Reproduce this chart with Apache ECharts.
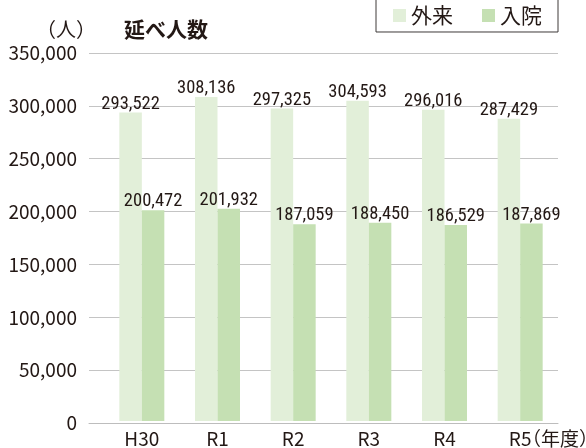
<!DOCTYPE html>
<html>
<head>
<meta charset="utf-8">
<script src="https://cdn.jsdelivr.net/npm/echarts@6/dist/echarts.min.js"></script>
<style>
  html, body { margin: 0; padding: 0; background: #fff; }
  #chart { width: 586px; height: 448px; }
</style>
</head>
<body>
<!-- 延べ人数 -->
<div id="chart"></div>
<script>
var categories = ['H30', 'R1', 'R2', 'R3', 'R4', 'R5']
var gairai = [293522, 308136, 297325, 304593, 296016, 287429] // 外来
var nyuin = [200472, 201932, 187059, 188450, 186529, 187869] // 入院
var yMin = 0
var yMax = 350000
var yStep = 50000

var textColor = '#231815'
var cjkFont = 'Noto Sans CJK JP, sans-serif'
var labelFont = 'Roboto Condensed, Noto Sans, sans-serif'

var myChart = echarts.init(document.getElementById('chart'))

function barLabel() {
  return {
    show: true,
    position: 'top',
    distance: -1,
    fontFamily: labelFont,
    fontSize: 18.5,
    color: textColor,
    formatter: function (p) { return p.value.toLocaleString('en-US') }
  }
}

var option = {
  animation: false,
  backgroundColor: '#fff',
  title: [
    {
      text: '（人）',
      left: 31,
      top: 14,
      textStyle: { fontFamily: cjkFont, fontSize: 20, fontWeight: 'normal', color: textColor }
    },
    {
      text: '延べ人数',
      left: 119,
      top: 14,
      textStyle: { fontFamily: cjkFont, fontSize: 21, fontWeight: 'bold', color: textColor }
    }
  ],
  legend: {
    right: 28,
    top: -2,
    padding: [7, 16, 6, 17],
    borderColor: '#3e3a39',
    borderWidth: 1,
    itemWidth: 13,
    itemHeight: 13,
    itemGap: 29,
    icon: 'rect',
    textStyle: { fontFamily: cjkFont, fontSize: 21, color: textColor },
    data: ['外来', '入院']
  },
  grid: [
    { left: 89, right: 28, top: 53, bottom: 25 },
    { left: 104, right: 28, top: 53, bottom: 25 }
  ],
  xAxis: [
    {
      type: 'value',
      gridIndex: 0,
      min: 0,
      max: 1,
      axisLine: { show: true, onZero: false, lineStyle: { color: '#bdbdbd', width: 1 } },
      axisTick: { show: false },
      axisLabel: { show: false },
      splitLine: { show: false }
    },
    {
      type: 'category',
      gridIndex: 1,
      data: categories,
      axisLine: { show: false },
      axisTick: { show: false },
      axisLabel: {
        margin: 8,
        fontFamily: cjkFont,
        fontSize: 19,
        color: textColor
      }
    }
  ],
  yAxis: [
    {
      type: 'value',
      gridIndex: 0,
      min: yMin,
      max: yMax,
      interval: yStep,
      axisLine: { show: false },
      axisTick: { show: false },
      axisLabel: {
        margin: 12,
        fontFamily: cjkFont,
        fontSize: 19,
        color: textColor,
        formatter: function (v) { return v.toLocaleString('en-US') }
      },
      splitLine: {
        show: true,
        showMinLine: false,
        lineStyle: { color: '#c4c4c4', width: 1 }
      }
    },
    {
      type: 'value',
      gridIndex: 1,
      min: yMin,
      max: yMax,
      interval: yStep,
      show: false,
      splitLine: { show: false }
    }
  ],
  graphic: [
    {
      type: 'text',
      left: 522,
      top: 429,
      style: {
        text: '（年度）',
        font: '19px Noto Sans CJK JP',
        fill: textColor
      }
    }
  ],
  series: [
    {
      name: '外来',
      type: 'bar',
      xAxisIndex: 1,
      yAxisIndex: 1,
      barWidth: 22.5,
      barGap: '0%',
      data: gairai,
      itemStyle: { color: '#e2efd9' },
      label: barLabel()
    },
    {
      name: '入院',
      type: 'bar',
      xAxisIndex: 1,
      yAxisIndex: 1,
      barWidth: 22.5,
      barGap: '0%',
      data: nyuin,
      itemStyle: { color: '#c5e0b3' },
      label: barLabel()
    }
  ]
}

myChart.setOption(option)
</script>
</body>
</html>
